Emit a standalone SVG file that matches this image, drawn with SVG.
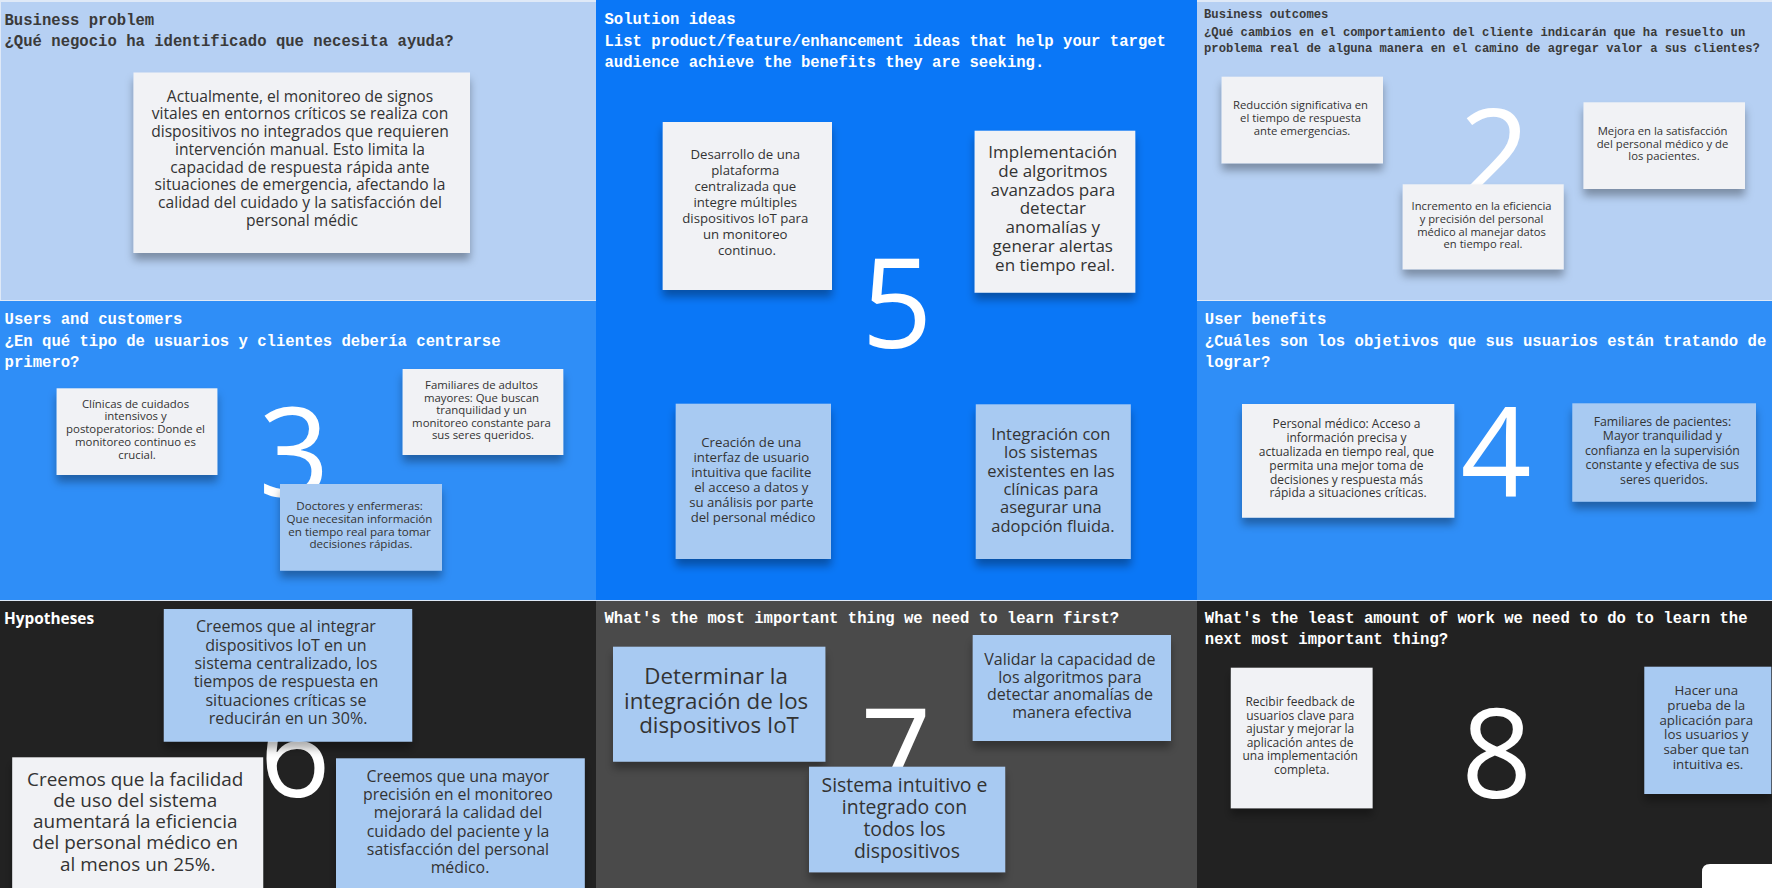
<svg xmlns="http://www.w3.org/2000/svg" width="1772" height="888" viewBox="0 0 1772 888">
<defs>
<filter id="sh" x="-10%" y="-10%" width="120%" height="130%">
<feDropShadow dx="0" dy="7" stdDeviation="4" flood-color="#000" flood-opacity="0.32"/>
</filter>
<style>
.pl{fill:#b6d0f3}.pb{fill:#0a77f7}.pm{fill:#2f8ef7}.pd{fill:#222222}.pg{fill:#4a4a4a}
.cw{fill:#f1f2f5;filter:url(#sh)}.cb{fill:#a8caf2;filter:url(#sh)}
.t{font-family:'Liberation Mono',monospace;font-weight:bold;font-size:15.6px;fill:#fff}
.tk{fill:#3a3a3a}
.ts{font-size:12.2px}
.ct{font-family:'Open Sans','Liberation Sans',sans-serif;fill:#333;text-anchor:middle}
.big{font-family:'Open Sans','Liberation Sans',sans-serif;fill:#fff;text-anchor:middle;font-size:124px}
</style>
</defs>
<rect x="0" y="0" width="1772" height="888" fill="#dfe9f7"/>

<g id="panel-business-problem">
<rect class="pl" x="1" y="2" width="595" height="298"/>
<text class="t tk" x="4.5" y="25">Business problem</text>
<text class="t tk" x="4.5" y="46">¿Qué negocio ha identificado que necesita ayuda?</text>
</g>
<g id="card-problem">
<rect class="cw" x="133.5" y="72.5" width="336.5" height="180.5"/>
<text class="ct" font-size="15.6">
<tspan x="302" y="101.7">Actualmente, el monitoreo de signos</tspan>
<tspan x="302" y="119.4">vitales en entornos críticos se realiza con</tspan>
<tspan x="302" y="137.2">dispositivos no integrados que requieren</tspan>
<tspan x="302" y="154.9">intervención manual. Esto limita la</tspan>
<tspan x="302" y="172.7">capacidad de respuesta rápida ante</tspan>
<tspan x="302" y="190.4">situaciones de emergencia, afectando la</tspan>
<tspan x="302" y="208.2">calidad del cuidado y la satisfacción del</tspan>
<tspan x="302" y="225.9">personal médic</tspan>
</text>
</g>

<g id="panel-solution-ideas">
<rect class="pb" x="596" y="0" width="601" height="600"/>
<text class="t" x="604.5" y="24">Solution ideas</text>
<text class="t" x="604.5" y="45.5">List product/feature/enhancement ideas that help your target</text>
<text class="t" x="604.5" y="67">audience achieve the benefits they are seeking.</text>
<text class="big" x="897" y="348">5</text>
</g>
<g id="card-sol-1">
<rect class="cw" x="662.7" y="122" width="169.3" height="168"/>
<text class="ct" font-size="13.2">
<tspan x="747" y="159">Desarrollo de una</tspan>
<tspan x="747" y="175">plataforma</tspan>
<tspan x="747" y="191">centralizada que</tspan>
<tspan x="747" y="207">integre múltiples</tspan>
<tspan x="747" y="223">dispositivos IoT para</tspan>
<tspan x="747" y="239">un monitoreo</tspan>
<tspan x="747" y="255">continuo.</tspan>
</text>
</g>
<g id="card-sol-2">
<rect class="cw" x="974.6" y="130.7" width="160.7" height="162"/>
<text class="ct" font-size="17">
<tspan x="1055" y="158">Implementación</tspan>
<tspan x="1055" y="176.8">de algoritmos</tspan>
<tspan x="1055" y="195.6">avanzados para</tspan>
<tspan x="1055" y="214.4">detectar</tspan>
<tspan x="1055" y="233.2">anomalías y</tspan>
<tspan x="1055" y="252">generar alertas</tspan>
<tspan x="1055" y="270.8">en tiempo real.</tspan>
</text>
</g>
<g id="card-sol-3">
<rect class="cb" x="675.7" y="403.7" width="155.3" height="155.3"/>
<text class="ct" font-size="13.2">
<tspan x="753" y="446.7">Creación de una</tspan>
<tspan x="753" y="461.7">interfaz de usuario</tspan>
<tspan x="753" y="476.7">intuitiva que facilite</tspan>
<tspan x="753" y="491.7">el acceso a datos y</tspan>
<tspan x="753" y="506.7">su análisis por parte</tspan>
<tspan x="753" y="521.7">del personal médico</tspan>
</text>
</g>
<g id="card-sol-4">
<rect class="cb" x="975.8" y="404.3" width="155" height="154.7"/>
<text class="ct" font-size="16.5">
<tspan x="1053" y="440">Integración con</tspan>
<tspan x="1053" y="458.3">los sistemas</tspan>
<tspan x="1053" y="476.6">existentes en las</tspan>
<tspan x="1053" y="494.9">clínicas para</tspan>
<tspan x="1053" y="513.2">asegurar una</tspan>
<tspan x="1053" y="531.5">adopción fluida.</tspan>
</text>
</g>

<g id="panel-business-outcomes">
<rect class="pl" x="1197" y="2" width="575" height="298"/>
<text class="t tk ts" x="1204" y="18.3">Business outcomes</text>
<text class="t tk ts" x="1204" y="35.5">¿Qué cambios en el comportamiento del cliente indicarán que ha resuelto un</text>
<text class="t tk ts" x="1204" y="51.7">problema real de alguna manera en el camino de agregar valor a sus clientes?</text>
<text class="big" x="1495" y="198">2</text>
</g>
<g id="card-out-1">
<rect class="cw" x="1221.6" y="76.7" width="161.4" height="86.6"/>
<text class="ct" font-size="11.3">
<tspan x="1302" y="109">Reducción significativa en</tspan>
<tspan x="1302" y="122">el tiempo de respuesta</tspan>
<tspan x="1302" y="135">ante emergencias.</tspan>
</text>
</g>
<g id="card-out-2">
<rect class="cw" x="1583.5" y="102.3" width="161.5" height="86.7"/>
<text class="ct" font-size="11.3">
<tspan x="1664" y="135">Mejora en la satisfacción</tspan>
<tspan x="1664" y="147.7">del personal médico y de</tspan>
<tspan x="1664" y="160.4">los pacientes.</tspan>
</text>
</g>
<g id="card-out-3">
<rect class="cw" x="1402.7" y="184.3" width="161" height="85"/>
<text class="ct" font-size="11.2">
<tspan x="1483" y="210">Incremento en la eficiencia</tspan>
<tspan x="1483" y="222.8">y precisión del personal</tspan>
<tspan x="1483" y="235.6">médico al manejar datos</tspan>
<tspan x="1483" y="248.4">en tiempo real.</tspan>
</text>
</g>

<g id="panel-users">
<rect class="pm" x="0" y="301" width="596" height="299"/>
<text class="t" x="4.6" y="324.3">Users and customers</text>
<text class="t" x="4.6" y="345.5">¿En qué tipo de usuarios y clientes debería centrarse</text>
<text class="t" x="4.6" y="367">primero?</text>
<text class="big" x="294" y="496.5">3</text>
</g>
<g id="card-users-1">
<rect class="cw" x="56.6" y="388.3" width="160.8" height="86.7"/>
<text class="ct" font-size="11.4">
<tspan x="137" y="407.7">Clínicas de cuidados</tspan>
<tspan x="137" y="420.4">intensivos y</tspan>
<tspan x="137" y="433.1">postoperatorios: Donde el</tspan>
<tspan x="137" y="445.8">monitoreo continuo es</tspan>
<tspan x="137" y="458.5">crucial.</tspan>
</text>
</g>
<g id="card-users-2">
<rect class="cw" x="402.6" y="369" width="160.7" height="86"/>
<text class="ct" font-size="11.4">
<tspan x="483" y="389">Familiares de adultos</tspan>
<tspan x="483" y="401.6">mayores: Que buscan</tspan>
<tspan x="483" y="414.2">tranquilidad y un</tspan>
<tspan x="483" y="426.8">monitoreo constante para</tspan>
<tspan x="483" y="439.4">sus seres queridos.</tspan>
</text>
</g>
<g id="card-users-3">
<rect class="cb" x="280" y="484" width="162" height="86.7"/>
<text class="ct" font-size="11.6">
<tspan x="361" y="510">Doctores y enfermeras:</tspan>
<tspan x="361" y="522.8">Que necesitan información</tspan>
<tspan x="361" y="535.6">en tiempo real para tomar</tspan>
<tspan x="361" y="548.4">decisiones rápidas.</tspan>
</text>
</g>

<g id="panel-user-benefits">
<rect class="pm" x="1197" y="301" width="575" height="299"/>
<text class="t" x="1204.8" y="324.3">User benefits</text>
<text class="t" x="1204.8" y="345.5">¿Cuáles son los objetivos que sus usuarios están tratando de</text>
<text class="t" x="1204.8" y="367">lograr?</text>
<text class="big" x="1496" y="497">4</text>
</g>
<g id="card-benefit-1">
<rect class="cw" x="1242" y="404" width="212.3" height="113.7"/>
<text class="ct" font-size="12">
<tspan x="1348" y="428.3">Personal médico: Acceso a</tspan>
<tspan x="1348" y="442.1">información precisa y</tspan>
<tspan x="1348" y="455.9">actualizada en tiempo real, que</tspan>
<tspan x="1348" y="469.7">permita una mejor toma de</tspan>
<tspan x="1348" y="483.5">decisiones y respuesta más</tspan>
<tspan x="1348" y="497.3">rápida a situaciones críticas.</tspan>
</text>
</g>
<g id="card-benefit-2">
<rect class="cb" x="1572.3" y="403.3" width="183.7" height="98.4"/>
<text class="ct" font-size="12.3">
<tspan x="1664" y="425.7">Familiares de pacientes:</tspan>
<tspan x="1664" y="440.2">Mayor tranquilidad y</tspan>
<tspan x="1664" y="454.7">confianza en la supervisión</tspan>
<tspan x="1664" y="469.2">constante y efectiva de sus</tspan>
<tspan x="1664" y="483.7">seres queridos.</tspan>
</text>
</g>

<g id="panel-hypotheses">
<rect class="pd" x="0" y="601" width="596" height="287"/>
<text x="4" y="624.3" font-family="'Open Sans','Liberation Sans',sans-serif" font-weight="bold" font-size="15.4" fill="#fff">Hypotheses</text>
<text class="big" x="295" y="797">6</text>
</g>
<g id="card-hyp-1">
<rect class="cb" x="163.8" y="609" width="248.4" height="132.7"/>
<text class="ct" font-size="16">
<tspan x="288" y="632.3">Creemos que al integrar</tspan>
<tspan x="288" y="650.6">dispositivos IoT en un</tspan>
<tspan x="288" y="668.9">sistema centralizado, los</tspan>
<tspan x="288" y="687.2">tiempos de respuesta en</tspan>
<tspan x="288" y="705.5">situaciones críticas se</tspan>
<tspan x="288" y="723.8">reducirán en un 30%.</tspan>
</text>
</g>
<g id="card-hyp-2">
<rect class="cw" x="12.2" y="757.3" width="251" height="140"/>
<text class="ct" font-size="18.9">
<tspan x="137.7" y="785.7">Creemos que la facilidad</tspan>
<tspan x="137.7" y="806.9">de uso del sistema</tspan>
<tspan x="137.7" y="828.1">aumentará la eficiencia</tspan>
<tspan x="137.7" y="849.3">del personal médico en</tspan>
<tspan x="137.7" y="870.5">al menos un 25%.</tspan>
</text>
</g>
<g id="card-hyp-3">
<rect class="cb" x="336" y="758.3" width="248.8" height="140"/>
<text class="ct" font-size="15.9">
<tspan x="460" y="781.7">Creemos que una mayor</tspan>
<tspan x="460" y="800">precisión en el monitoreo</tspan>
<tspan x="460" y="818.3">mejorará la calidad del</tspan>
<tspan x="460" y="836.6">cuidado del paciente y la</tspan>
<tspan x="460" y="854.9">satisfacción del personal</tspan>
<tspan x="460" y="873.2">médico.</tspan>
</text>
</g>

<g id="panel-learn-first">
<rect class="pg" x="596" y="601" width="601" height="287"/>
<text class="t" x="604.5" y="623.3">What's the most important thing we need to learn first?</text>
<text class="big" x="896" y="798">7</text>
</g>
<g id="card-learn-1">
<rect class="cb" x="613" y="646.7" width="212.4" height="115"/>
<text class="ct" font-size="22.3">
<tspan x="719" y="684.3">Determinar la</tspan>
<tspan x="719" y="708.8">integración de los</tspan>
<tspan x="719" y="733.3">dispositivos IoT</tspan>
</text>
</g>
<g id="card-learn-2">
<rect class="cb" x="972.7" y="635" width="198.3" height="106"/>
<text class="ct" font-size="16">
<tspan x="1072" y="665">Validar la capacidad de</tspan>
<tspan x="1072" y="682.6">los algoritmos para</tspan>
<tspan x="1072" y="700.2">detectar anomalías de</tspan>
<tspan x="1072" y="717.8">manera efectiva</tspan>
</text>
</g>
<g id="card-learn-3">
<rect class="cb" x="809" y="766.7" width="196.2" height="105.6"/>
<text class="ct" font-size="19.4">
<tspan x="907" y="792.3">Sistema intuitivo e</tspan>
<tspan x="907" y="814.1">integrado con</tspan>
<tspan x="907" y="835.9">todos los</tspan>
<tspan x="907" y="857.7">dispositivos</tspan>
</text>
</g>

<g id="panel-least-work">
<rect class="pd" x="1197" y="601" width="575" height="287"/>
<text class="t" x="1204.8" y="623.3">What's the least amount of work we need to do to learn the</text>
<text class="t" x="1204.8" y="644.3">next most important thing?</text>
<text class="big" x="1496.6" y="798">8</text>
</g>
<g id="card-work-1">
<rect class="cw" x="1230.8" y="667.7" width="141.8" height="140.6"/>
<text class="ct" font-size="12">
<tspan x="1301.7" y="706">Recibir feedback de</tspan>
<tspan x="1301.7" y="719.5">usuarios clave para</tspan>
<tspan x="1301.7" y="733">ajustar y mejorar la</tspan>
<tspan x="1301.7" y="746.5">aplicación antes de</tspan>
<tspan x="1301.7" y="760">una implementación</tspan>
<tspan x="1301.7" y="773.5">completa.</tspan>
</text>
</g>
<g id="card-work-2">
<rect class="cb" x="1644.3" y="666.7" width="127" height="127.3"/>
<text class="ct" font-size="13.3">
<tspan x="1708" y="695">Hacer una</tspan>
<tspan x="1708" y="709.8">prueba de la</tspan>
<tspan x="1708" y="724.6">aplicación para</tspan>
<tspan x="1708" y="739.4">los usuarios y</tspan>
<tspan x="1708" y="754.2">saber que tan</tspan>
<tspan x="1708" y="769">intuitiva es.</tspan>
</text>
</g>
<path id="corner-tab" d="M1702 888 V872 Q1702 864 1710 864 H1772 V888 Z" fill="#ffffff"/>
</svg>
